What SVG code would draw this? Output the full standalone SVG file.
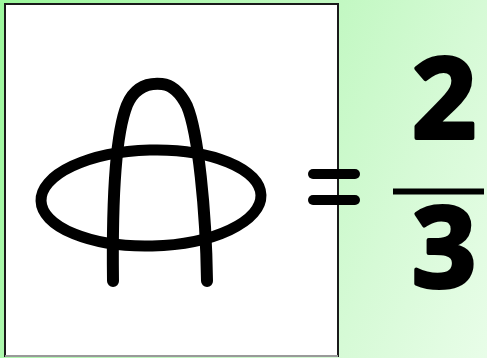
<svg xmlns="http://www.w3.org/2000/svg" width="487" height="358" viewBox="0 0 487 358">
<defs>
<linearGradient id="bg" gradientUnits="userSpaceOnUse" x1="0" y1="0" x2="600" y2="250">
<stop offset="0" stop-color="#9cf79c"/>
<stop offset="0.48" stop-color="#c2f8c2"/>
<stop offset="0.69" stop-color="#d6fad6"/>
<stop offset="0.9" stop-color="#e8fde8"/>
</linearGradient>
</defs>
<style>
.ink{fill:none;stroke:#000;stroke-linecap:round;stroke-linejoin:round}
.digit{font-family:"Open Sans",sans-serif;font-weight:bold;font-size:112px;fill:#000;stroke:#000;stroke-width:4;stroke-linejoin:round;text-anchor:middle}
</style>
<rect width="487" height="358" fill="url(#bg)"/>
<g id="frame">
<rect x="5" y="4" width="333" height="352" fill="#fff" stroke="#1a1a1a" stroke-width="2"/>
<line x1="5" y1="356" x2="338" y2="356" stroke="#999" stroke-width="2"/>
</g>
<g id="symbol">
<ellipse class="ink" cx="151" cy="198" rx="110" ry="48" stroke-width="11" transform="rotate(-1.5 151 198)"/>
<path class="ink" stroke-width="12" d="M113 281 C112 200 115 135 127 105 C136 84 152 83 162 84 C172 85 180 92 187 106 C198 132 206 210 207 281"/>
</g>
<g id="equals">
<line class="ink" x1="313" y1="174" x2="355" y2="174" stroke-width="10"/>
<line class="ink" x1="313" y1="200" x2="355" y2="200" stroke-width="10"/>
</g>
<g id="fraction">
<text class="digit" x="444" y="138">2</text>
<line x1="393" y1="191.5" x2="484" y2="191.5" stroke="#000" stroke-width="6"/>
<text class="digit" x="444" y="287">3</text>
</g>
</svg>
